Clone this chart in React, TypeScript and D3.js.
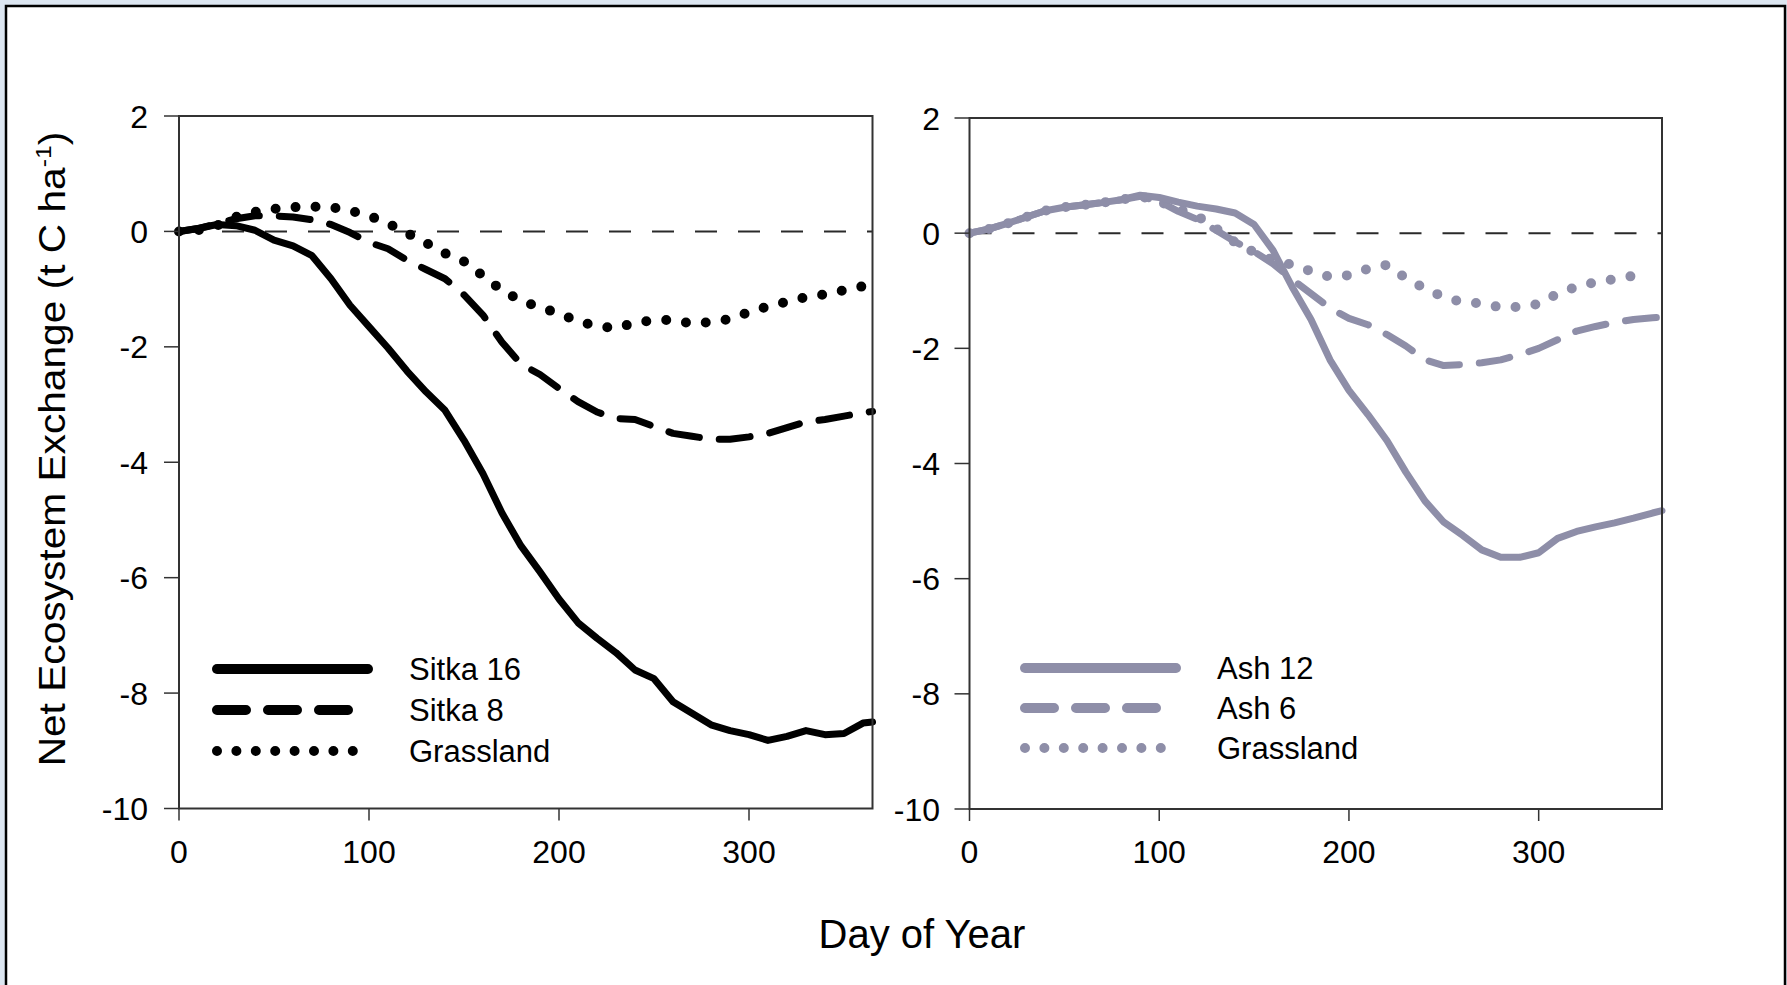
import React from 'react';
import * as d3 from 'd3';

// ---- data ----
const days = [...d3.range(0, 361, 10), 365];
const daysGrassLeft = d3.range(0, 361, 10);
const daysGrassRight = [...d3.range(0, 351, 10), 355];

const sitka16 = [0, 0.05, 0.12, 0.1, 0.02, -0.15, -0.25, -0.42, -0.82, -1.28,
  -1.65, -2.02, -2.42, -2.78, -3.1, -3.62, -4.2, -4.88, -5.45, -5.9,
  -6.37, -6.78, -7.05, -7.3, -7.6, -7.75, -8.15, -8.35, -8.55, -8.65,
  -8.72, -8.82, -8.75, -8.65, -8.72, -8.7, -8.52, -8.5];
const sitka8 = [0, 0.05, 0.13, 0.22, 0.27, 0.27, 0.25, 0.2, 0.12, -0.02,
  -0.19, -0.3, -0.5, -0.66, -0.82, -1.1, -1.45, -1.92, -2.3, -2.48,
  -2.72, -2.95, -3.13, -3.24, -3.26, -3.38, -3.5, -3.55, -3.6, -3.6,
  -3.56, -3.5, -3.4, -3.3, -3.26, -3.2, -3.14, -3.12];
const grassLeft = [0, 0.02, 0.1, 0.25, 0.34, 0.39, 0.42, 0.43, 0.42, 0.36,
  0.27, 0.14, -0.03, -0.2, -0.38, -0.52, -0.77, -1.02, -1.2, -1.32,
  -1.42, -1.56, -1.64, -1.68, -1.58, -1.54, -1.53, -1.6, -1.57, -1.52,
  -1.4, -1.3, -1.22, -1.14, -1.09, -1.02, -0.95];
const ash12 = [0, 0.07, 0.17, 0.28, 0.39, 0.45, 0.49, 0.53, 0.58, 0.66,
  0.62, 0.54, 0.47, 0.42, 0.35, 0.15, -0.3, -0.93, -1.5, -2.2,
  -2.73, -3.15, -3.6, -4.15, -4.65, -5.02, -5.25, -5.5, -5.63, -5.63,
  -5.55, -5.3, -5.18, -5.1, -5.03, -4.95, -4.86, -4.82];
const ash6 = [0, 0.07, 0.17, 0.28, 0.39, 0.45, 0.49, 0.53, 0.58, 0.64,
  0.55, 0.38, 0.24, 0.05, -0.15, -0.32, -0.53, -0.8, -1.05, -1.3,
  -1.48, -1.59, -1.76, -1.96, -2.2, -2.3, -2.28, -2.25, -2.2, -2.11,
  -2.0, -1.85, -1.7, -1.62, -1.55, -1.5, -1.47, -1.46];
const grassRight = [0, 0.07, 0.17, 0.28, 0.39, 0.45, 0.49, 0.53, 0.58, 0.64,
  0.55, 0.42, 0.3, 0.08, -0.16, -0.33, -0.47, -0.55, -0.66, -0.76,
  -0.73, -0.62, -0.55, -0.78, -0.96, -1.11, -1.2, -1.22, -1.29, -1.28,
  -1.23, -1.05, -0.93, -0.85, -0.8, -0.74, -0.7];

const yTicks = [2, 0, -2, -4, -6, -8, -10];
const xTicks = [0, 100, 200, 300];
const leftLegend = ['Sitka 16', 'Sitka 8', 'Grassland'];
const rightLegend = ['Ash 12', 'Ash 6', 'Grassland'];

const BLACK = '#000000';
const GREY = '#8e8ea8';
const FONT = '"Liberation Sans", Arial, Helvetica, sans-serif';

type Style = 'solid' | 'dashed' | 'dotted';
interface SeriesDef { xs: number[]; ys: number[]; style: Style; }

const lineStyle: Record<Style, { w: number; dash?: string }> = {
  solid: { w: 7 },
  dashed: { w: 7, dash: '31 20' },
  dotted: { w: 10, dash: '0 20' },
};
const legendStyle: Record<Style, { w: number; dash?: string }> = {
  solid: { w: 10 },
  dashed: { w: 10, dash: '29 22' },
  dotted: { w: 10, dash: '0 19.4' },
};
const legendOrder: Style[] = ['solid', 'dashed', 'dotted'];

interface PanelProps {
  x0: number; x1: number; yTop: number; yBottom: number;
  series: SeriesDef[]; color: string; legend: string[];
  legendX: number; legendRows: number[]; legendTextX: number; labelRight: number;
}

function Panel(p: PanelProps) {
  const x = d3.scaleLinear().domain([0, 365]).range([p.x0, p.x1]);
  const y = d3.scaleLinear().domain([-10, 2]).range([p.yBottom, p.yTop]);
  const line = d3.line<[number, number]>().x(d => x(d[0])).y(d => y(d[1]));
  return (
    <g>
      <line x1={x(0)} x2={x(365)} y1={y(0)} y2={y(0)} stroke="#2a2a2a" strokeWidth={2} strokeDasharray="22 21" />
      {p.series.map((s, i) => {
        const st = lineStyle[s.style];
        const pts = s.xs.map((d, j) => [d, s.ys[j]] as [number, number]);
        return (
          <path key={i} d={line(pts) || ''} fill="none" stroke={p.color} strokeWidth={st.w}
            strokeDasharray={st.dash} strokeLinecap="round" strokeLinejoin="round" />
        );
      })}
      <rect x={p.x0} y={p.yTop} width={p.x1 - p.x0} height={p.yBottom - p.yTop} fill="none" stroke="#333" strokeWidth={2} />
      {yTicks.map(t => (
        <g key={'y' + t}>
          <line x1={p.x0 - 15} x2={p.x0} y1={y(t)} y2={y(t)} stroke="#333" strokeWidth={1.5} />
          <text x={p.labelRight} y={y(t)} dy="0.36em" textAnchor="end" fontFamily={FONT} fontSize={32} fill="#000">{t}</text>
        </g>
      ))}
      {xTicks.map(t => (
        <g key={'x' + t}>
          <line x1={x(t)} x2={x(t)} y1={p.yBottom} y2={p.yBottom + 12} stroke="#333" strokeWidth={1.5} />
          <text x={x(t)} y={863} textAnchor="middle" fontFamily={FONT} fontSize={32} fill="#000">{t}</text>
        </g>
      ))}
      {p.legend.map((name, i) => {
        const st = legendStyle[legendOrder[i]];
        const ly = p.legendRows[i];
        const x2 = legendOrder[i] === 'dashed' ? p.legendX + 137 : p.legendX + 156;
        return (
          <g key={'l' + i}>
            <line x1={p.legendX + 5} x2={x2} y1={ly} y2={ly} stroke={p.color} strokeWidth={st.w}
              strokeDasharray={st.dash} strokeLinecap="round" />
            <text x={p.legendTextX} y={ly + 11} fontFamily={FONT} fontSize={31} fill="#000">{name}</text>
          </g>
        );
      })}
    </g>
  );
}

export default function App() {
  return (
    <svg width={1787} height={985} style={{ position: 'absolute', left: 0, top: 0 }}>
      <rect x={0} y={0} width={1787} height={985} fill="#dce6f1" />
      <rect x={6} y={6} width={1779} height={1000} fill="#ffffff" stroke="#000" strokeWidth={2.5} />
      <Panel x0={179} x1={872.5} yTop={116} yBottom={808.5} color={BLACK}
        series={[
          { xs: daysGrassLeft, ys: grassLeft, style: 'dotted' },
          { xs: days, ys: sitka8, style: 'dashed' },
          { xs: days, ys: sitka16, style: 'solid' },
        ]}
        legend={leftLegend} legendX={212} legendRows={[669, 710, 751]} legendTextX={409} labelRight={148} />
      <Panel x0={969.5} x1={1662} yTop={118} yBottom={809} color={GREY}
        series={[
          { xs: daysGrassRight, ys: grassRight, style: 'dotted' },
          { xs: days, ys: ash6, style: 'dashed' },
          { xs: days, ys: ash12, style: 'solid' },
        ]}
        legend={rightLegend} legendX={1020} legendRows={[668, 708, 748]} legendTextX={1217} labelRight={940} />
      <text transform="translate(65,449) rotate(-90) scale(1.13,1)" textAnchor="middle" fontFamily={FONT} fontSize={36} fill="#000">
        Net Ecosystem Exchange (t C ha<tspan fontSize={22} dy={-14}>-1</tspan><tspan dy={14}>)</tspan>
      </text>
      <text x={922} y={948} textAnchor="middle" fontFamily={FONT} fontSize={40} fill="#000">Day of Year</text>
    </svg>
  );
}
